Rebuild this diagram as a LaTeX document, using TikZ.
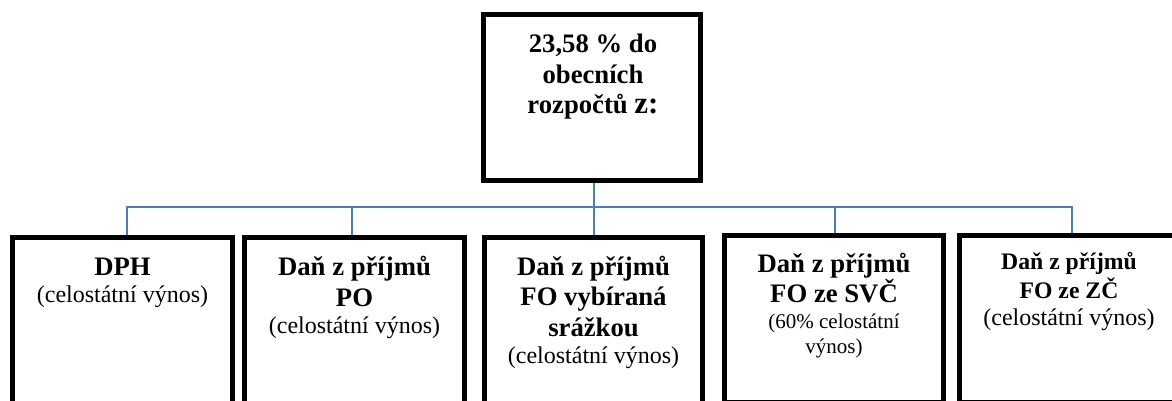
\documentclass[tikz,border=0pt]{standalone}
\usepackage{fontspec}
\setmainfont{Liberation Serif}
\definecolor{connblue}{RGB}{74,126,187}
\tikzset{
  box/.style={draw=black, line width=5pt, inner sep=0pt, fill=none},
  conn/.style={draw=connblue, line width=1.6pt},
  bt/.style={anchor=base, inner sep=0pt, font=\fontsize{26.7}{30}\selectfont\bfseries},
  btsmall/.style={anchor=base, inner sep=0pt, font=\fontsize{23.7}{28}\selectfont\bfseries},
  rt/.style={anchor=base, inner sep=0pt, font=\fontsize{24}{28}\selectfont},
  rtsmall/.style={anchor=base, inner sep=0pt, font=\fontsize{21}{25}\selectfont},
}
\begin{document}
\begin{tikzpicture}[x=1pt, y=-1pt]
\useasboundingbox (0,0) rectangle (1172,400);
\clip (0,0) rectangle (1172,400);

% boxes (centre lines of the thick borders)
\node[box, minimum width=217pt, minimum height=166pt] (top) at (592,97.5) {};
\node[box, minimum width=220pt, minimum height=167.5pt] (b1) at (122.5,321.25) {};
\node[box, minimum width=220pt, minimum height=167.5pt] (b2) at (354.5,321.25) {};
\node[box, minimum width=218pt, minimum height=167.5pt] (b3) at (593.5,321.25) {};
\node[box, minimum width=219pt, minimum height=166.5pt] (b4) at (834,318.75) {};
\node[box, minimum width=220pt, minimum height=166.5pt] (b5) at (1069.5,318.75) {};

% tree connectors
\coordinate (bus) at (0,207);
\draw[conn] ([xshift=2pt]top.south) -- ([xshift=2pt]top.south |- bus);
\draw[conn] ([xshift=4.5pt]b1.north) -- ([xshift=4.5pt]b1.north |- bus)
  -- ([xshift=2.5pt]b5.north |- bus) -- ([xshift=2.5pt]b5.north);
\draw[conn] ([xshift=-2.5pt]b2.north) -- ([xshift=-2.5pt]b2.north |- bus);
\draw[conn] ([xshift=0.5pt]b3.north) -- ([xshift=0.5pt]b3.north |- bus);
\draw[conn] ([xshift=1pt]b4.north) -- ([xshift=1pt]b4.north |- bus);

% top box text
\node[bt] (t1) at (593,52) {23,58 \% do};
\node[bt] (t2) at (593,83) {obecních};
\node[bt] (t3) at (593,113) {rozpočtů {\fontsize{31}{32}\selectfont z:}};

% box 1
\node[bt] (a1) at (122.5,275) {DPH};
\node[rt] (a2) at (122.5,302) {(celostátní výnos)};

% box 2
\node[bt] (c1) at (354.5,275) {Daň z příjmů};
\node[bt] (c2) at (354.5,306) {PO};
\node[rt] (c3) at (354.5,333) {(celostátní výnos)};

% box 3
\node[bt] (d1) at (593.5,275) {Daň z příjmů};
\node[bt] (d2) at (593.5,305) {FO vybíraná};
\node[bt] (d3) at (593.5,336) {srážkou};
\node[rt] (d4) at (593.5,363) {(celostátní výnos)};

% box 4
\node[bt] (e1) at (834,272) {Daň z příjmů};
\node[bt] (e2) at (834,302) {FO ze SVČ};
\node[rtsmall] (e3) at (834,328) {(60\% celostátní};
\node[rtsmall] (e4) at (834,353) {výnos)};

% box 5
\node[btsmall] (f1) at (1069,269) {Daň z příjmů};
\node[btsmall] (f2) at (1069,298) {FO ze ZČ};
\node[rt] (f3) at (1069,325) {(celostátní výnos)};
\end{tikzpicture}
\end{document}
